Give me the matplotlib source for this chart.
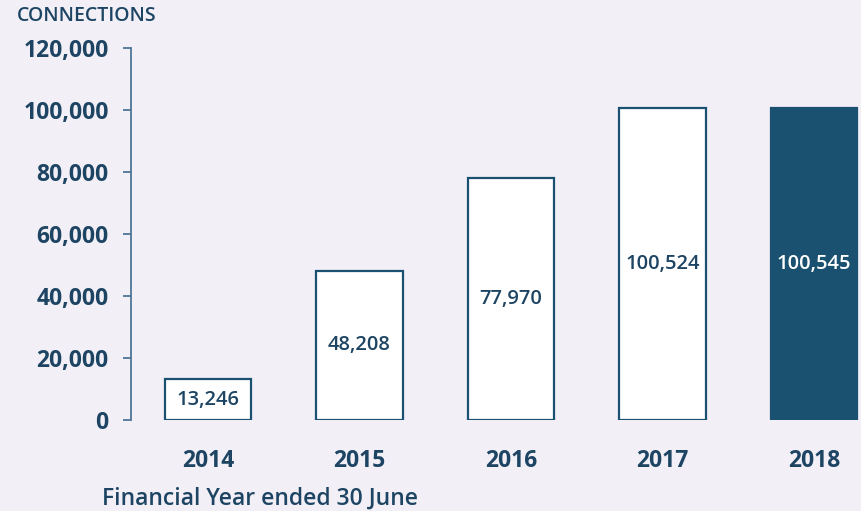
import matplotlib
matplotlib.use("Agg")
from matplotlib import pyplot as plt

years = ["2014", "2015", "2016", "2017", "2018"]
connections = [13246, 48208, 77970, 100524, 100545]
y_ticks = [0, 20000, 40000, 60000, 80000, 100000, 120000]

bg = "#f2eff6"
navy = "#1a5070"
text_col = "#1d4563"

plt.rcParams['font.family'] = ['Open Sans', 'DejaVu Sans']

fig = plt.figure(figsize=(8.61, 5.11), dpi=100, facecolor=bg)
ax = fig.add_axes([0.152, 0.178, 0.848, 0.728])
ax.set_facecolor(bg)

x = list(range(len(years)))
faces = ["white"] * (len(years) - 1) + [navy]
bars = ax.bar(x, connections, width=0.57, color=faces, edgecolor=navy, linewidth=1.6)

for i, (b, v) in enumerate(zip(bars, connections)):
    col = "white" if i == len(years) - 1 else text_col
    ax.text(b.get_x() + b.get_width() / 2, v / 2, f"{v:,}", ha="center", va="center",
            fontsize=14.5, color=col, fontweight="semibold")

ax.set_xlim(-0.508, 4.31)
ax.set_ylim(0, 120000)
ax.set_yticks(y_ticks)
ax.set_yticklabels([f"{t:,}" for t in y_ticks])
ax.set_xticks(x)
ax.set_xticklabels(years)

for s in ["top", "right", "bottom"]:
    ax.spines[s].set_visible(False)
ax.spines["left"].set_color("#4d7696")
ax.spines["left"].set_linewidth(1.3)

ax.tick_params(axis="y", length=6, width=1.3, color="#4d7696", pad=10,
               labelsize=16.5, labelcolor=text_col)
ax.tick_params(axis="x", length=0, pad=21, labelsize=16.5, labelcolor=text_col)
for lab in ax.get_yticklabels() + ax.get_xticklabels():
    lab.set_fontweight("bold")

fig.text(0.02, 0.968, "CONNECTIONS", fontsize=14, fontweight="semibold", color=text_col,
         ha="left", va="center")
fig.text(0.118, 0.025, "Financial Year ended 30 June", fontsize=16.5, fontweight="semibold",
         color=text_col, ha="left", va="center")

fig.savefig("out.png", dpi=100, facecolor=bg)
